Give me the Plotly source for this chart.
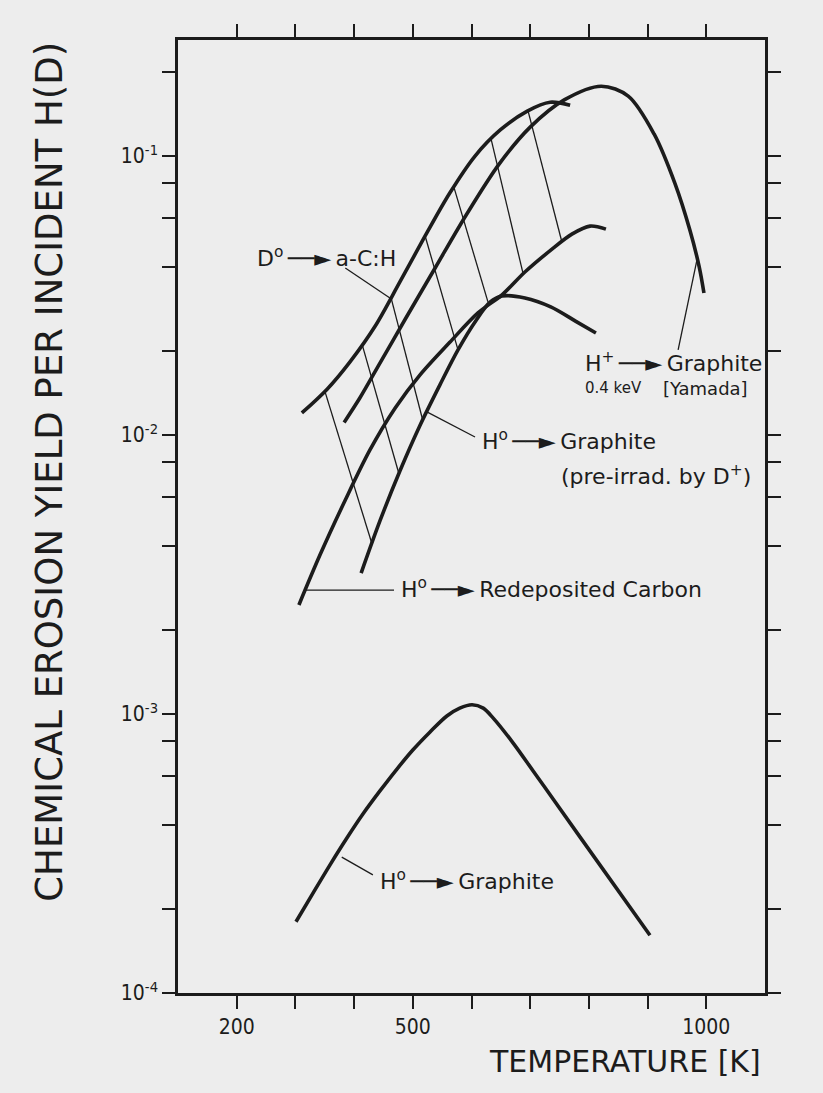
import plotly.graph_objects as go
import math

INK = "#1c1c1c"
BG = "#ededed"
TICKFONT = "DejaVu Sans Condensed, Liberation Sans Narrow, sans-serif"
LABFONT = "DejaVu Sans, sans-serif"
ARROW = "\u2009\u2500\u2500\u25BA\u2009"

# ---- data (temperature in K, yield per incident H(D)) ----
# D0 -> a-C:H
acH_T = [311, 354, 393, 436, 478, 521, 563, 606, 649, 695, 734, 768]
acH_Y = [0.0120, 0.0146, 0.0183, 0.0246, 0.0354, 0.0517, 0.0737, 0.100, 0.124,
         0.145, 0.156, 0.152]

# H+ 0.4 keV -> Graphite [Yamada]
yam_T = [383, 410, 444, 487, 538, 592, 647, 700, 758, 821, 867, 911, 947, 972, 988, 996]
yam_Y = [0.0111, 0.0136, 0.0181, 0.0260, 0.0397, 0.0620, 0.0936, 0.127, 0.159, 0.178,
         0.164, 0.120, 0.0793, 0.0543, 0.0400, 0.0323]

# H0 -> Graphite (pre-irrad. by D+)
pre_T = [412, 444, 478, 512, 546, 577, 608, 632, 652, 691, 735, 780, 812]
pre_Y = [0.00320, 0.00492, 0.00743, 0.0108, 0.0151, 0.0202, 0.0258, 0.0300, 0.0315,
         0.0310, 0.0288, 0.0254, 0.0232]

# H0 -> Redeposited Carbon
red_T = [306, 342, 385, 427, 470, 512, 563, 611, 652, 691, 735, 771, 802, 829]
red_Y = [0.00246, 0.00372, 0.00585, 0.00884, 0.0125, 0.0164, 0.0215, 0.0274, 0.0318,
         0.0384, 0.0460, 0.0525, 0.0561, 0.0547]

# H0 -> Graphite
gra_T = [301, 330, 359, 388, 415, 444, 473, 500, 529, 558, 580, 601, 620, 637,
         671, 705, 739, 785, 904]
gra_Y = [1.80e-4, 2.28e-4, 2.88e-4, 3.60e-4, 4.38e-4, 5.30e-4, 6.35e-4, 7.43e-4,
         8.61e-4, 9.84e-4, 1.05e-3, 1.08e-3, 1.05e-3, 9.67e-4, 7.87e-4, 6.25e-4,
         4.96e-4, 3.62e-4, 1.61e-4]

# hatching across the band (start on a-C:H curve, end on lower curves)
hatch_T0 = [350, 414, 463, 521, 570, 633, 696]
hatch_Y0 = [0.0144, 0.0210, 0.0310, 0.0517, 0.0774, 0.116, 0.146]
hatch_T1 = [430, 476, 517, 577, 628, 688, 754]
hatch_Y1 = [0.00410, 0.00731, 0.0113, 0.0202, 0.0300, 0.0378, 0.0492]

# x ticks and labels
x_ticks = [200, 300, 400, 500, 600, 700, 800, 900, 1000]
x_labels = ["200", "", "", "500", "", "", "", "", "1000"]
# y ticks and labels
y_ticks = [1e-4, 2e-4, 4e-4, 6e-4, 8e-4, 1e-3, 2e-3, 4e-3, 6e-3, 8e-3,
           1e-2, 2e-2, 4e-2, 6e-2, 8e-2, 1e-1, 2e-1]
y_labels = ["10<sup>-4</sup>", "", "", "", "", "10<sup>-3</sup>", "", "", "", "",
            "10<sup>-2</sup>", "", "", "", "", "10<sup>-1</sup>", ""]

# labels: text, T, Y, size
labels = [
    ("D<sup>o</sup>" + ARROW + "a-C:H", 231, 0.0435, 22),
    ("H<sup>+</sup>" + ARROW + "Graphite", 790, 0.0183, 22),
    ("0.4 keV", 790, 0.0147, 15),
    ("[Yamada]", 923, 0.0147, 18),
    ("H<sup>o</sup>" + ARROW + "Graphite", 614, 0.00959, 22),
    ("(pre-irrad. by D<sup>+</sup>)", 749, 0.00719, 22),
    ("H<sup>o</sup>" + ARROW + "Redeposited Carbon", 476, 0.00283, 22),
    ("H<sup>o</sup>" + ARROW + "Graphite", 441, 2.54e-4, 22),
]
# leader lines: T0, Y0, T1, Y1
leaders = [
    (385, 0.0397, 461, 0.0310),
    (952, 0.0202, 984, 0.0424),
    (524, 0.0121, 606, 0.00984),
    (318, 0.00278, 468, 0.00278),
    (379, 3.07e-4, 432, 2.65e-4),
]

fig = go.Figure()

def curve(T, Y, w=3.6):
    fig.add_trace(go.Scatter(x=T, y=Y, mode="lines",
                             line=dict(color=INK, width=w, shape="spline", smoothing=0.9),
                             hoverinfo="skip", showlegend=False))

for T, Y in [(acH_T, acH_Y), (yam_T, yam_Y), (pre_T, pre_Y), (red_T, red_Y), (gra_T, gra_Y)]:
    curve(T, Y)

hx, hy = [], []
for a, b, c, d in zip(hatch_T0, hatch_Y0, hatch_T1, hatch_Y1):
    hx += [a, c, None]
    hy += [b, d, None]
fig.add_trace(go.Scatter(x=hx, y=hy, mode="lines", line=dict(color=INK, width=1.3),
                         hoverinfo="skip", showlegend=False))

lx, ly = [], []
for a, b, c, d in leaders:
    lx += [a, c, None]
    ly += [b, d, None]
fig.add_trace(go.Scatter(x=lx, y=ly, mode="lines", line=dict(color=INK, width=1.3),
                         hoverinfo="skip", showlegend=False))

for txt, T, Y, s in labels:
    fig.add_annotation(x=T, y=math.log10(Y), xref="x", yref="y", text=txt,
                       showarrow=False, xanchor="left", yanchor="middle",
                       font=dict(family=LABFONT, size=s, color=INK))

fig.add_annotation(x=0.761, y=-0.072, xref="paper", yref="paper", text="TEMPERATURE [K]",
                   showarrow=False, xanchor="center", yanchor="middle",
                   font=dict(family=LABFONT, size=30, color=INK))
fig.add_annotation(x=-0.218, y=0.547, xref="paper", yref="paper",
                   text="CHEMICAL EROSION YIELD PER INCIDENT H(D)", textangle=-90,
                   showarrow=False, xanchor="center", yanchor="middle",
                   font=dict(family=LABFONT, size=37, color=INK))

axis_common = dict(showline=True, linewidth=2.5, linecolor=INK, mirror="ticks",
                   ticks="outside", ticklen=13, tickwidth=2, tickcolor=INK,
                   showgrid=False, zeroline=False,
                   tickfont=dict(family=TICKFONT, size=21, color=INK))
fig.update_xaxes(range=[100, 1100], tickmode="array", tickvals=x_ticks, ticktext=x_labels,
                 **axis_common)
fig.update_yaxes(type="log", range=[-4, -0.584], tickmode="array", tickvals=y_ticks,
                 ticktext=y_labels, **axis_common)

fig.update_layout(width=823, height=1093, margin=dict(l=178, r=58, t=40, b=100),
                  paper_bgcolor=BG, plot_bgcolor=BG, showlegend=False)

fig.write_html("out.html")
